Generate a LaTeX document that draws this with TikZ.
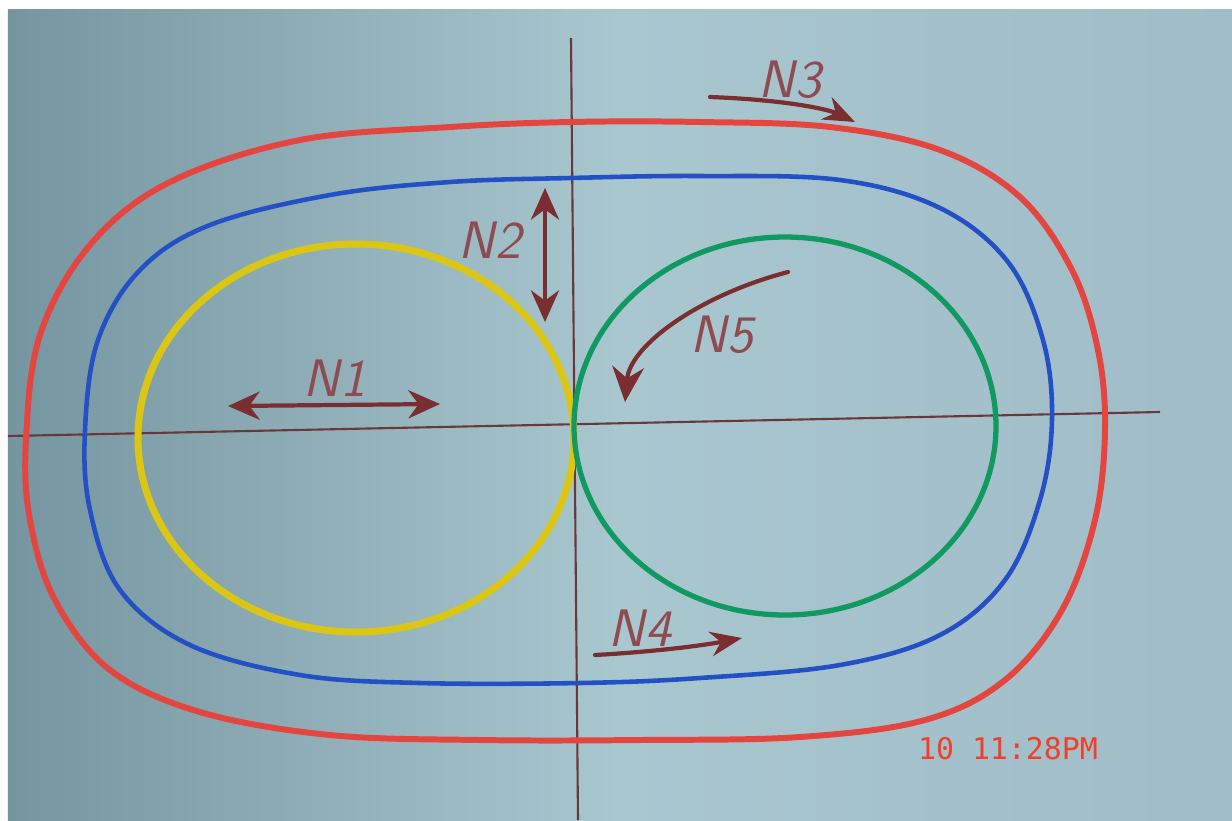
\documentclass[tikz,border=0pt]{standalone}
\usepackage{fontspec}
\usetikzlibrary{arrows.meta}
\newfontfamily\stampfont{DejaVu Sans Mono}

\definecolor{PaperLeft}{HTML}{7595A0}
\definecolor{PaperMid}{HTML}{A9C7CF}
\definecolor{PaperRight}{HTML}{A0BCC8}
\definecolor{OuterRed}{HTML}{E5453F}
\definecolor{InnerBlue}{HTML}{2350C4}
\definecolor{LeftYellow}{HTML}{DCC614}
\definecolor{RightGreen}{HTML}{109A62}
\definecolor{AxisBrown}{HTML}{6B3838}
\definecolor{ArrowBrown}{HTML}{7A2E30}
\definecolor{LabelBrown}{HTML}{8E4B50}
\definecolor{StampRed}{HTML}{F0402A}

\begin{document}
\begin{tikzpicture}[x=0.01cm,y=-0.01cm,
    track/.style={line width=#1,line join=round},
    axisline/.style={AxisBrown,line width=0.6pt},
    marker/.style={ArrowBrown,line width=1.2pt,line cap=round},
    tag/.style={LabelBrown,font=\sffamily\slshape\fontsize{15}{18}\selectfont}]
  % ===== Fondo =====
  \fill[white] (0,0) rectangle (1232,820);
  \useasboundingbox (0,0) rectangle (1232,820);
  \shade[left color=PaperLeft,right color=PaperRight,middle color=PaperMid]
    (8,9) rectangle (1232,820);

  % ===== Ejes =====
  \draw[axisline] (8,436) -- (1160,412);
  \draw[axisline] (571,38) -- (578,820);

  % ===== Pistas exteriores =====
  \draw[track=1.7pt,OuterRed] plot[smooth cycle,tension=0.6] coordinates {
    (26,440) (40,335) (90,245) (170,182) (300,140) (450,127) (570,122)
    (700,122) (830,127) (940,150) (1020,197) (1072,270) (1098,350)
    (1105,430) (1095,520) (1062,610) (1005,680) (925,720) (800,737)
    (640,740) (480,740) (330,735) (200,712) (110,670) (55,600) (30,520)};
  \draw[track=1.3pt,InnerBlue] plot[smooth cycle,tension=0.6] coordinates {
    (85,430) (98,340) (140,270) (210,225) (330,195) (450,182) (570,178)
    (700,176) (840,180) (940,208) (1008,262) (1043,340) (1052,420)
    (1040,500) (1005,580) (940,635) (840,665) (700,678) (580,683)
    (420,683) (300,675) (190,645) (120,590) (90,510)};

  % ===== Circulos =====
  \draw[track=2pt,LeftYellow] (356,438) ellipse [x radius=218,y radius=194];
  \draw[track=1.5pt,RightGreen] (785,426) ellipse [x radius=211,y radius=189];

  % ===== Flechas =====
  \draw[marker,{Stealth[length=9pt,width=8pt]}-{Stealth[length=9pt,width=8pt]}]
    (228,406) -- (440,404);
  \draw[marker,{Stealth[length=9pt,width=8pt]}-{Stealth[length=9pt,width=8pt]}]
    (545,188) -- (545,322);
  \draw[marker,-{Stealth[length=9pt,width=7pt]}]
    (710,97) .. controls (790,100) and (830,110) .. (855,122);
  \draw[marker,-{Stealth[length=9pt,width=7pt]}]
    (595,655) .. controls (650,652) and (700,646) .. (742,638);
  \draw[marker,-{Stealth[length=10pt,width=9pt]}]
    (788,272) .. controls (700,295) and (630,345) .. (625,402);

  % ===== Etiquetas =====
  \node[tag] (n1) at (335,378) {N1};
  \node[tag] (n2) at (490,240) {N2};
  \node[tag] (n3) at (790,80) {N3};
  \node[tag] (n4) at (640,628) {N4};
  \node[tag] (n5) at (722,335) {N5};
  \node[StampRed,font=\stampfont\fontsize{8.5}{10}\selectfont] (stamp)
    at (1008,749) {10 11:28PM};
\end{tikzpicture}
\end{document}
